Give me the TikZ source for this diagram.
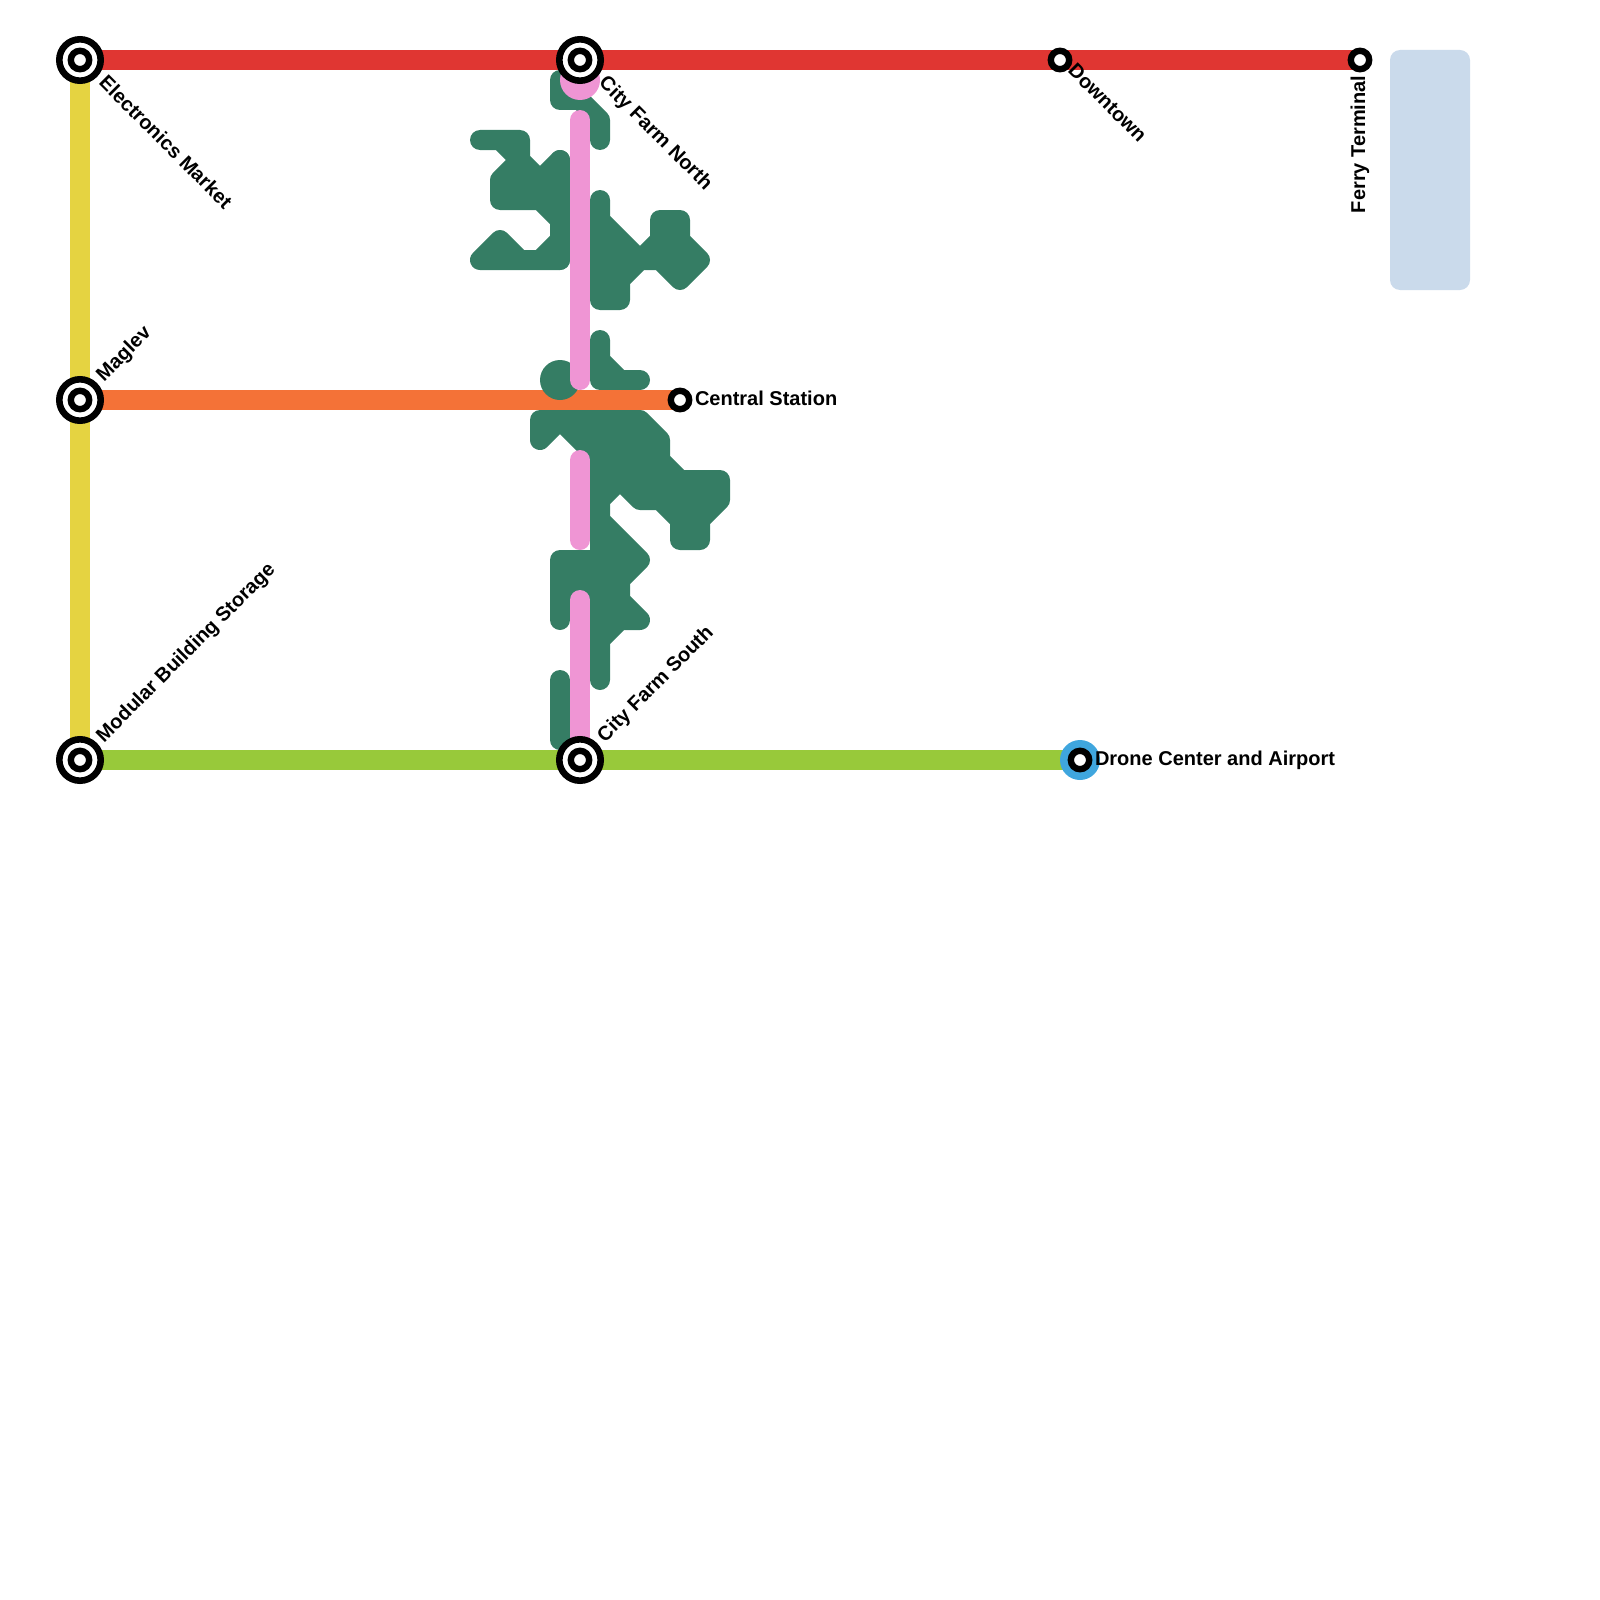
\documentclass[tikz,border=0pt]{standalone}
\usepackage{fontspec}
\setmainfont{Liberation Sans}
\definecolor{cred}{HTML}{E03632}
\definecolor{cyellow}{HTML}{E5D341}
\definecolor{corange}{HTML}{F47237}
\definecolor{clime}{HTML}{98C93A}
\definecolor{cgreen}{HTML}{357D64}
\definecolor{cpink}{HTML}{EF95D4}
\definecolor{cblue}{HTML}{3FA6DE}
\definecolor{cpale}{HTML}{CADAEB}
\tikzset{
  blob/.style={draw=cgreen,fill=cgreen,line width=10pt,line join=round,line cap=round},
  blobline/.style={draw=cgreen,line width=10pt,line join=round,line cap=round},
  route/.style={line width=10pt},
  pinkline/.style={draw=cpink,line width=10pt,line cap=round},
  ringouter/.style={circle,draw=black,fill=white,line width=3.3pt,inner sep=0pt,outer sep=0pt,minimum size=20.7pt},
  ringinner/.style={circle,draw=black,fill=white,line width=3.2pt,inner sep=0pt,outer sep=0pt,minimum size=9.2pt},
  lab/.style={anchor=base west,inner sep=0pt,outer sep=0pt,font=\fontsize{10}{12}\selectfont\bfseries,text=black},
}
\begin{document}
\begin{tikzpicture}[x=0.5pt,y=-0.5pt]
\useasboundingbox (0,0) rectangle (1600,1600);
\fill[cpale,rounded corners=5pt] (1390,50) rectangle (1470,290);
% green blobs
\draw[blobline] (560,80) -- (560,100) -- (580,100) -- (600,120) -- (600,140);
\draw[blob] (480,140) -- (520,140) -- (520,160) -- (540,180) -- (560,160) -- (560,220) -- (540,200) -- (500,200) -- (500,180) -- (520,160) -- (500,140) -- cycle;
\draw[blobline] (560,160) -- (560,260);
\draw[blob] (480,260) -- (500,240) -- (520,260) -- (540,260) -- (560,240) -- (560,260) -- cycle;
\draw[blob] (600,200) -- (600,220) -- (640,260) -- (660,240) -- (660,220) -- (680,220) -- (680,240) -- (700,260) -- (680,280) -- (660,260) -- (640,260) -- (620,280) -- (620,300) -- (600,300) -- cycle;
\draw[blob] (600,340) -- (600,360) -- (620,380) -- (640,380) -- (600,380) -- cycle;
\draw[blob] (540,420) -- (640,420) -- (660,440) -- (660,460) -- (680,480) -- (720,480) -- (720,500) -- (700,520) -- (700,540) -- (680,540) -- (680,520) -- (660,500) -- (640,500) -- (620,480) -- (600,500) -- (600,520) -- (640,560) -- (620,580) -- (620,600) -- (640,620) -- (620,620) -- (600,640) -- (600,680) -- (600,460) -- (580,440) -- (560,420) -- (540,440) -- cycle;
\draw[blobline] (560,620) -- (560,560) -- (600,560);
\draw[blobline] (580,560) -- (580,620);
\draw[blobline] (560,680) -- (560,740);
% pink terminus
\fill[cpink] (580,80) circle[radius=20];
% stations as anchors
\coordinate (em) at (80,60);
\coordinate (cfn) at (580,60);
\coordinate (dt) at (1060,60);
\coordinate (ft) at (1360,60);
\coordinate (mg) at (80,400);
\coordinate (cs) at (680,400);
\coordinate (mb) at (80,760);
\coordinate (cfs) at (580,760);
\coordinate (dc) at (1080,760);
% routes
\draw[route,cyellow] (em) -- (mg) -- (mb);
\draw[route,cred] (em) -- (cfn) -- (dt) -- (ft);
\draw[route,corange] (mg) -- (cs);
\draw[route,clime] (mb) -- (cfs) -- (dc);
\fill[cgreen] (560,380) circle[radius=20];
\draw[pinkline] (580,120) -- (580,380);
\draw[pinkline] (580,460) -- (580,540);
\draw[pinkline] (580,600) -- (580,750);
\fill[cblue] (dc) circle[radius=20];
% stations
\foreach \s/\n in {em/a,cfn/b,mg/c,mb/d,cfs/e}{
  \node[ringouter] (\n o) at (\s) {};
  \node[ringinner] (\n i) at (\s) {};
}
\foreach \s/\n in {dt/f,ft/g,cs/h,dc/i}{
  \node[ringinner] (\n i) at (\s) {};
}
% labels
\node[lab,rotate=-45] (l1) at (98,84) {Electronics Market};
\node[lab,rotate=-45] (l2) at (598,84) {City Farm North};
\node[lab,rotate=-45] (l3) at (1067,72) {Downtown};
\node[lab,rotate=90] (l4) at (1365,213) {Ferry Terminal};
\node[lab,rotate=45] (l5) at (104,382) {Maglev};
\node[lab,rotate=45] (l6) at (104,743) {Modular Building Storage};
\node[lab,rotate=45] (l7) at (605,743) {City Farm South};
\node[lab] (l8) at (695,405) {Central Station};
\node[lab] (l9) at (1095,765) {Drone Center and Airport};
\end{tikzpicture}
\end{document}
